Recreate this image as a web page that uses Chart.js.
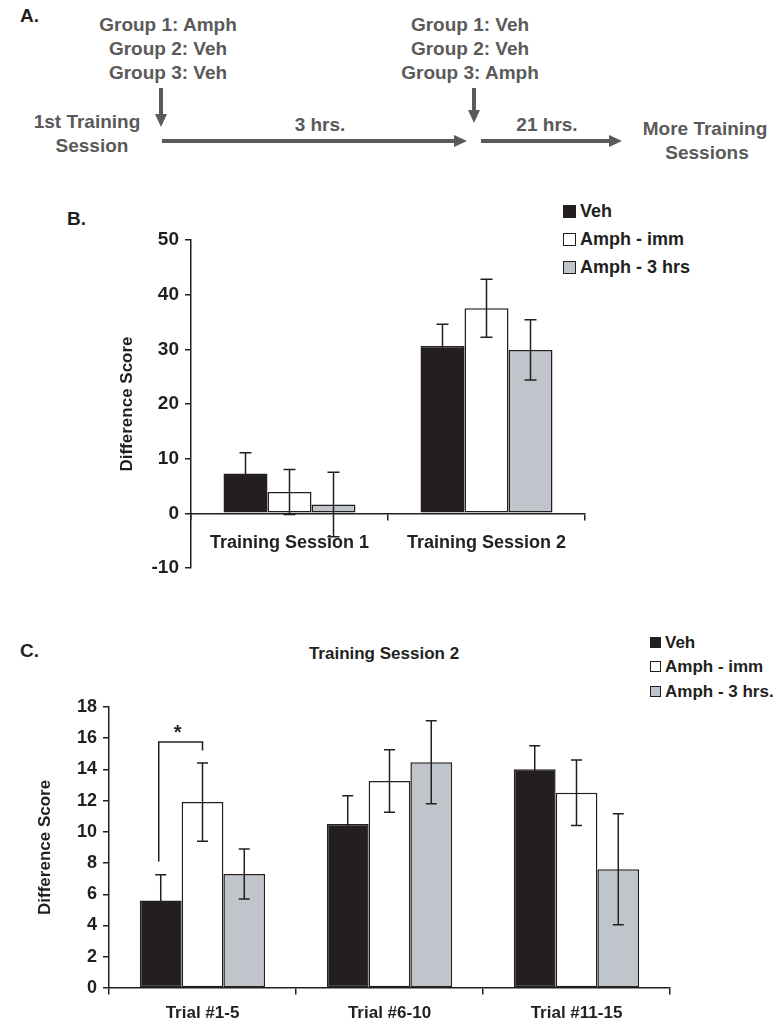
<!DOCTYPE html>
<html>
<head>
<meta charset="utf-8">
<script src="https://cdn.jsdelivr.net/npm/chart.js@4.4.0/dist/chart.umd.min.js"></script>
<style>
  body { margin: 0; background: #fff; font-family: "Liberation Sans", Arial, sans-serif; font-weight: bold; }
  #page { position: relative; width: 782px; height: 1031px; overflow: hidden; }
  .t { position: absolute; white-space: nowrap; transform: translate(-50%, -50%); line-height: 1; }
  .grey { color: #5a5a5a; font-size: 19px; }
  .panel { position: absolute; color: #231f20; font-size: 19px; line-height: 1; }
  .legend { position: absolute; color: #231f20; line-height: 1; }
  .legend div { position: absolute; white-space: nowrap; display: flex; align-items: center; }
  .legend span.box { display: inline-block; box-sizing: border-box; border: 1.5px solid #231f20; }
  canvas { position: absolute; left: 0; }
</style>
</head>
<body>
<div id="page">
  <!-- panel A: timeline diagram -->
  <div class="panel" style="left:20px;top:6px;">A.</div>
  <div class="t grey" style="left:168px;top:24px;">Group 1: Amph</div>
  <div class="t grey" style="left:168px;top:48px;">Group 2: Veh</div>
  <div class="t grey" style="left:168px;top:72px;">Group 3: Veh</div>
  <div class="t grey" style="left:470px;top:24px;">Group 1: Veh</div>
  <div class="t grey" style="left:470px;top:48px;">Group 2: Veh</div>
  <div class="t grey" style="left:470px;top:72px;">Group 3: Amph</div>
  <div class="t grey" style="left:87px;top:121px;">1st Training</div>
  <div class="t grey" style="left:92px;top:145px;">Session</div>
  <div class="t grey" style="left:320px;top:124px;">3 hrs.</div>
  <div class="t grey" style="left:547px;top:124px;">21 hrs.</div>
  <div class="t grey" style="left:705px;top:128px;">More Training</div>
  <div class="t grey" style="left:707px;top:152px;">Sessions</div>
  <svg width="782" height="170" style="position:absolute;left:0;top:0;">
    <g stroke="#5a5a5a" stroke-width="4" fill="#5a5a5a">
      <line x1="161" y1="88" x2="161" y2="117"/>
      <polygon points="155,114 167,114 161,127" stroke="none"/>
      <line x1="162" y1="141" x2="456" y2="141"/>
      <polygon points="454,135 454,147 467,141" stroke="none"/>
      <line x1="474" y1="88" x2="474" y2="113"/>
      <polygon points="468,110 480,110 474,123" stroke="none"/>
      <line x1="481" y1="141" x2="611" y2="141"/>
      <polygon points="609,135 609,147 622,141" stroke="none"/>
    </g>
  </svg>

  <!-- panel B -->
  <div class="panel" style="left:67px;top:209px;">B.</div>
  <div class="legend" style="left:0;top:0;font-size:18px;">
    <div style="left:563px;top:202px;"><span class="box" style="width:13px;height:13px;background:#231f20;margin-right:4px;"></span>Veh</div>
    <div style="left:563px;top:230px;"><span class="box" style="width:13px;height:13px;background:#fff;margin-right:4px;"></span>Amph - imm</div>
    <div style="left:563px;top:258px;"><span class="box" style="width:13px;height:13px;background:#c0c4cb;margin-right:4px;"></span>Amph - 3 hrs</div>
  </div>
  <canvas id="chartB" width="620" height="380" style="top:220px;"></canvas>

  <!-- panel C -->
  <div class="panel" style="left:20px;top:641px;">C.</div>
  <div class="t" style="left:384px;top:653px;font-size:17px;color:#231f20;">Training Session 2</div>
  <div class="legend" style="left:0;top:0;font-size:17px;">
    <div style="left:650px;top:634px;"><span class="box" style="width:11px;height:11px;background:#231f20;margin-right:4px;"></span>Veh</div>
    <div style="left:650px;top:658px;"><span class="box" style="width:11px;height:11px;background:#fff;margin-right:4px;"></span>Amph - imm</div>
    <div style="left:650px;top:683px;"><span class="box" style="width:11px;height:11px;background:#c0c4cb;margin-right:4px;"></span>Amph - 3 hrs.</div>
  </div>
  <canvas id="chartC" width="782" height="341" style="top:690px;"></canvas>
</div>

<script>
// ---- data: panel B (difference score per training session) ----
const sessions = ['Training Session 1', 'Training Session 2'];
const vehB = [7.3, 30.6];
const vehErrB = [3.8, 4.0];
const immB = [3.9, 37.5];
const immErrB = [4.1, 5.3];
const hrsB = [1.6, 29.9];
const hrsErrB = [5.9, 5.5];
const ticksB = { min: -10, max: 50, step: 10 };

// ---- data: panel C (training session 2, by trial block) ----
const trials = ['Trial #1-5', 'Trial #6-10', 'Trial #11-15'];
const vehC = [5.6, 10.5, 14.0];
const vehErrC = [1.65, 1.8, 1.5];
const immC = [11.9, 13.25, 12.5];
const immErrC = [2.5, 2.0, 2.1];
const hrsC = [7.3, 14.45, 7.6];
const hrsErrC = [1.6, 2.65, 3.55];
const ticksC = { min: 0, max: 18, step: 2 };
// significance bracket: category, left value, top value, right value
const sigC = { index: 0, left: 8.1, top: 15.75, right: 15.2, label: '*' };

const INK = '#231f20';
const GREY_BAR = '#c0c4cb';
const seriesNames = ['Veh', 'Amph - imm', 'Amph - 3 hrs'];
const seriesFill = [INK, '#ffffff', GREY_BAR];

// error bars drawn from the dataset's own bars and the y scale
const errorBars = {
  id: 'errorBars',
  afterDatasetsDraw(chart, args, opts) {
    const ctx = chart.ctx;
    const y = chart.scales.y;
    ctx.save();
    ctx.strokeStyle = INK;
    ctx.lineWidth = 1.5;
    chart.data.datasets.forEach((ds, i) => {
      const meta = chart.getDatasetMeta(i);
      meta.data.forEach((bar, j) => {
        const v = ds.data[j], e = opts.errors[i][j];
        const top = y.getPixelForValue(v + e), bot = y.getPixelForValue(v - e);
        const half = opts.cap / 2;
        ctx.beginPath();
        ctx.moveTo(bar.x, top); ctx.lineTo(bar.x, bot);
        ctx.moveTo(bar.x - half, top); ctx.lineTo(bar.x + half, top);
        ctx.moveTo(bar.x - half, bot); ctx.lineTo(bar.x + half, bot);
        ctx.stroke();
      });
    });
    ctx.restore();
  }
};

const sigBracket = {
  id: 'sigBracket',
  afterDatasetsDraw(chart, args, opts) {
    if (!opts.sig) return;
    const s = opts.sig;
    const ctx = chart.ctx;
    const y = chart.scales.y;
    const x1 = chart.getDatasetMeta(0).data[s.index].x - 2;
    const x2 = chart.getDatasetMeta(1).data[s.index].x;
    const yt = y.getPixelForValue(s.top);
    ctx.save();
    ctx.strokeStyle = INK;
    ctx.lineWidth = 1.5;
    ctx.beginPath();
    ctx.moveTo(x1, y.getPixelForValue(s.left));
    ctx.lineTo(x1, yt);
    ctx.lineTo(x2, yt);
    ctx.lineTo(x2, y.getPixelForValue(s.right));
    ctx.stroke();
    ctx.fillStyle = INK;
    ctx.font = 'bold 20px "Liberation Sans", Arial, sans-serif';
    ctx.textAlign = 'center';
    ctx.textBaseline = 'alphabetic';
    ctx.fillText(s.label, (x1 + x2) / 2 - 3, yt - 3);
    ctx.restore();
  }
};

function makeDatasets(values) {
  return values.map((vals, i) => ({
    label: seriesNames[i],
    data: vals,
    backgroundColor: seriesFill[i],
    borderColor: INK,
    borderWidth: 1.5,
    borderSkipped: false
  }));
}

function makeChart(id, cfg) {
  return new Chart(document.getElementById(id), {
    type: 'bar',
    data: { labels: cfg.labels, datasets: makeDatasets(cfg.values) },
    plugins: [errorBars, sigBracket],
    options: {
      responsive: false,
      animation: false,
      categoryPercentage: 0.67,
      barPercentage: 1.0,
      layout: { padding: cfg.padding },
      plugins: {
        legend: { display: false },
        tooltip: { enabled: false },
        errorBars: { errors: cfg.errors, cap: cfg.cap },
        sigBracket: { sig: cfg.sig }
      },
      scales: {
        x: {
          position: { y: 0 },
          offset: true,
          grid: { offset: true, drawOnChartArea: false, tickLength: 6, color: INK, lineWidth: 1.5 },
          border: { color: INK, width: 1.5 },
          ticks: { color: INK, font: { family: '"Liberation Sans", Arial', size: cfg.labelSize, weight: 'bold' }, padding: cfg.labelPad }
        },
        y: {
          min: cfg.ticks.min,
          max: cfg.ticks.max,
          ticks: { stepSize: cfg.ticks.step, color: INK, padding: 6, font: { family: '"Liberation Sans", Arial', size: cfg.tickSize, weight: 'bold' } },
          grid: { drawOnChartArea: false, tickLength: 6, color: INK, lineWidth: 1.5 },
          border: { color: INK, width: 1.5 },
          title: {
            display: true, text: 'Difference Score', color: INK,
            font: { family: '"Liberation Sans", Arial', size: 17, weight: 'bold' },
            padding: { top: cfg.titlePad, bottom: 0 }
          },
          afterFit(s) { s.width = cfg.axisLeft; }
        }
      }
    }
  });
}

makeChart('chartB', {
  labels: sessions,
  values: [vehB, immB, hrsB],
  errors: [vehErrB, immErrB, hrsErrB],
  ticks: ticksB,
  cap: 12,
  padding: { left: 0, top: 20, right: 35, bottom: 32 },
  axisLeft: 191,
  titlePad: 117,
  labelSize: 18,
  tickSize: 19,
  labelPad: 13
});

makeChart('chartC', {
  labels: trials,
  values: [vehC, immC, hrsC],
  errors: [vehErrC, immErrC, hrsErrC],
  ticks: ticksC,
  cap: 11,
  sig: sigC,
  padding: { left: 0, top: 9, right: 112, bottom: 43 },
  axisLeft: 109,
  titlePad: 35,
  labelSize: 17,
  tickSize: 18,
  labelPad: 9
});
</script>
</body>
</html>
